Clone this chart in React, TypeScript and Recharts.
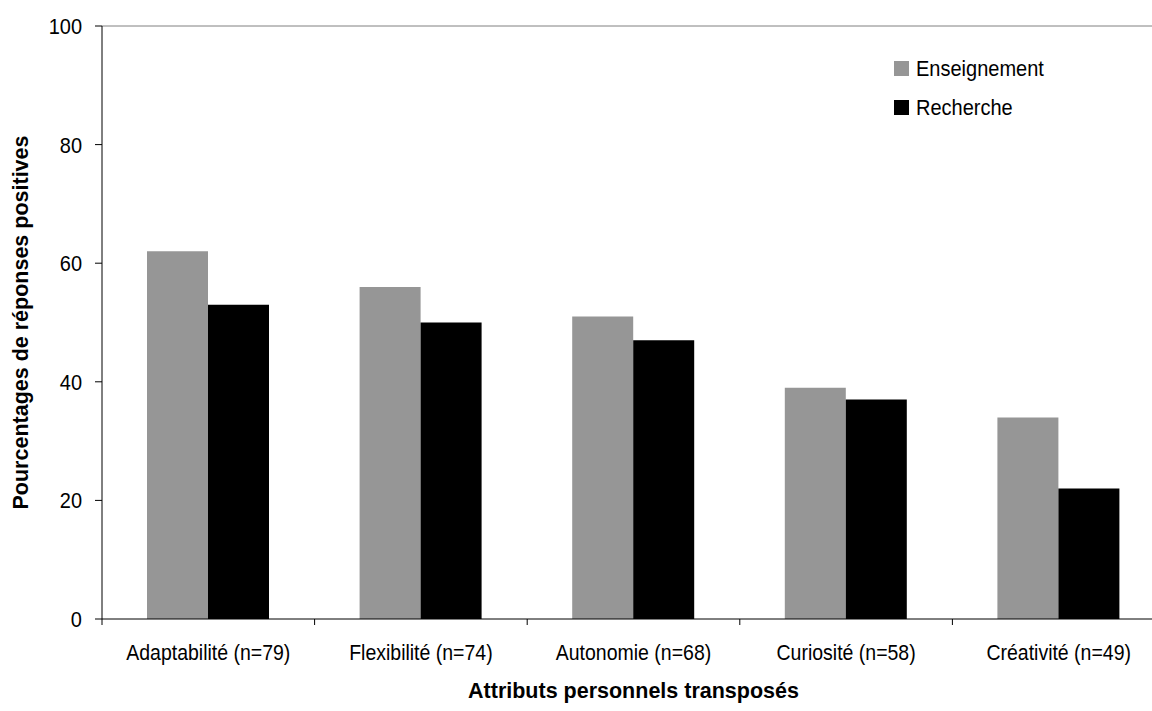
import { Bar, BarChart, Label, Legend, ReferenceLine, XAxis, YAxis } from "recharts";

const categories = [
	"Adaptabilité (n=79)",
	"Flexibilité (n=74)",
	"Autonomie (n=68)",
	"Curiosité (n=58)",
	"Créativité (n=49)",
];
const enseignement = [62, 56, 51, 39, 34];
const recherche = [53, 50, 47, 37, 22];
const yTicks = [0, 20, 40, 60, 80, 100];

const data = categories.map((name, i) => ({
	name,
	enseignement: enseignement[i],
	recherche: recherche[i],
}));

const FONT = '"Liberation Sans", Arial, sans-serif';
// the source text is a bit taller than it is wide (old GDI rendering)
const STRETCH = 1.12;

// Excel-style axis: tick marks sit between categories, not under them.
function CategoryTick(props: any) {
	const { x, y, payload, width, visibleTicksCount, index } = props;
	const half = width / visibleTicksCount / 2;
	const last = index === visibleTicksCount - 1;
	return (
		<g>
			<line x1={x - half} x2={x - half} y1={y} y2={y + 6} stroke="#000" />
			{last && (
				<line x1={x + half} x2={x + half} y1={y} y2={y + 6} stroke="#000" />
			)}
			<text
				transform={`translate(${x},${y + 41}) scale(1,${STRETCH})`}
				textAnchor="middle"
				fontFamily={FONT}
				fontSize={19.5}
				fill="#000"
			>
				{payload.value}
			</text>
		</g>
	);
}

function ValueTick(props: any) {
	const { x, y, payload } = props;
	return (
		<text
			transform={`translate(${x},${y}) scale(1,${STRETCH})`}
			textAnchor="end"
			dy="0.36em"
			fontFamily={FONT}
			fontSize={20}
			fill="#000"
		>
			{payload.value}
		</text>
	);
}

function renderLegend(props: any) {
	const items = props.payload ?? [];
	return (
		<div style={{ fontFamily: FONT, fontSize: 20, color: "#000" }}>
			{items.map((it: any) => (
				<div
					key={it.value}
					style={{ display: "flex", alignItems: "center", height: 39 }}
				>
					<span
						style={{
							width: 15,
							height: 15,
							background: it.color,
							marginRight: 7,
							display: "inline-block",
						}}
					/>
					<span
						style={{ display: "inline-block", transform: `scaleY(${STRETCH})` }}
					>
						{it.value}
					</span>
				</div>
			))}
		</div>
	);
}

const titleStyle = {
	fontFamily: FONT,
	fontSize: 21.5,
	fontWeight: "bold",
	fill: "#000",
};

export default function App() {
	return (
		<div
			style={{
				position: "fixed",
				left: 0,
				top: 0,
				width: 1152,
				height: 711,
				overflow: "hidden",
				background: "#fff",
			}}
		>
			<BarChart
				width={1200}
				height={711}
				data={data}
				margin={{ top: 26, right: 35, left: 0, bottom: 0 }}
				barCategoryGap={45}
				barGap={0}
			>
				<XAxis
					dataKey="name"
					height={92}
					stroke="#000"
					tickLine={false}
					tickSize={0}
					tickMargin={0}
					tick={<CategoryTick />}
					interval={0}
				>
					<Label
						value="Attributs personnels transposés"
						position="insideBottom"
						offset={13}
						style={titleStyle}
					/>
				</XAxis>
				<YAxis
					width={102}
					domain={[0, 100]}
					ticks={yTicks}
					stroke="#000"
					tickSize={7}
					tickMargin={13}
					tick={<ValueTick />}
				>
					<Label
						value="Pourcentages de réponses positives"
						angle={-90}
						position="insideLeft"
						offset={20}
						style={{ ...titleStyle, textAnchor: "middle" }}
					/>
				</YAxis>
				<ReferenceLine y={100} stroke="#808080" />
				<Legend
					layout="vertical"
					align="center"
					verticalAlign="middle"
					content={renderLegend}
					wrapperStyle={{ left: 894, top: 49, width: 200 }}
				/>
				<Bar
					dataKey="enseignement"
					name="Enseignement"
					fill="#969696"
					isAnimationActive={false}
				/>
				<Bar
					dataKey="recherche"
					name="Recherche"
					fill="#000000"
					isAnimationActive={false}
				/>
			</BarChart>
		</div>
	);
}
